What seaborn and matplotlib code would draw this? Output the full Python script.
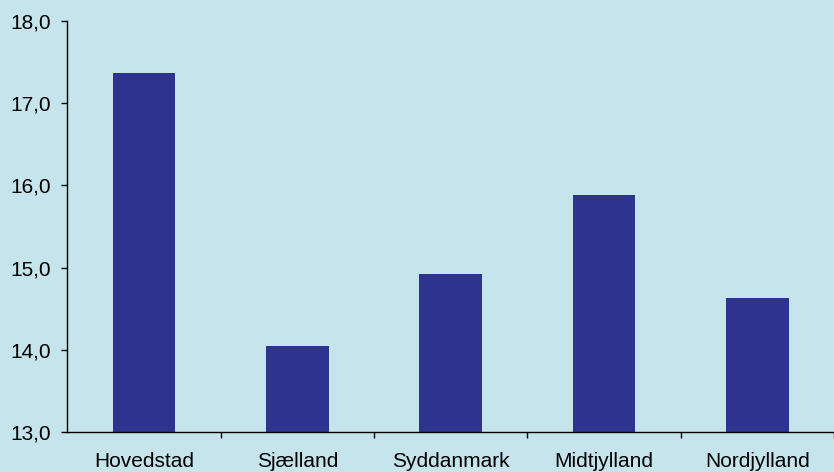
import matplotlib
matplotlib.use("Agg")
import matplotlib.pyplot as plt
import seaborn as sns
import pandas as pd

# Data
regions = ["Hovedstad", "Sjælland", "Syddanmark", "Midtjylland", "Nordjylland"]
values = [17.37, 14.05, 14.92, 15.88, 14.63]

bg = "#C5E4EC"
bar_color = "#2E3390"

sns.set_style("white")
plt.rcParams['font.family'] = ['Liberation Sans', 'DejaVu Sans']

df = pd.DataFrame({"region": regions, "value": values})

fig = plt.figure(figsize=(8.34, 4.72), dpi=100, facecolor=bg)
ax = fig.add_axes([0.0808, 0.0847, 0.9192, 0.8708])
ax.set_facecolor(bg)

sns.barplot(data=df, x="region", y="value", color=bar_color, width=0.41,
            saturation=1, edgecolor="none", linewidth=0, ax=ax)

ax.set_ylim(13, 18)
ax.set_xlim(-0.5, 4.41)
ax.set_yticks([13, 14, 15, 16, 17, 18])
ax.set_yticklabels([f"{v:.1f}".replace(".", ",") for v in range(13, 19)])

# category labels at centres, tick marks at the boundaries
ax.set_xticks([i + 0.5 for i in range(len(regions))])
ax.set_xticklabels([])
ax.set_xticks(range(len(regions)), minor=True)
ax.set_xticklabels(regions, minor=True)
ax.tick_params(axis="x", which="major", direction="out", length=4.3, width=1,
               color="black", bottom=True)
ax.tick_params(axis="x", which="minor", length=0, pad=14.5, labelsize=15,
               labelcolor="black")
ax.tick_params(axis="y", direction="out", length=4.3, width=1, color="black",
               left=True, pad=7.5, labelsize=15, labelcolor="black")

ax.set_xlabel("")
ax.set_ylabel("")
for side in ["top", "right"]:
    ax.spines[side].set_visible(False)
for side in ["left", "bottom"]:
    ax.spines[side].set_color("black")
    ax.spines[side].set_linewidth(1)

fig.savefig("out.png", dpi=100, facecolor=bg)
